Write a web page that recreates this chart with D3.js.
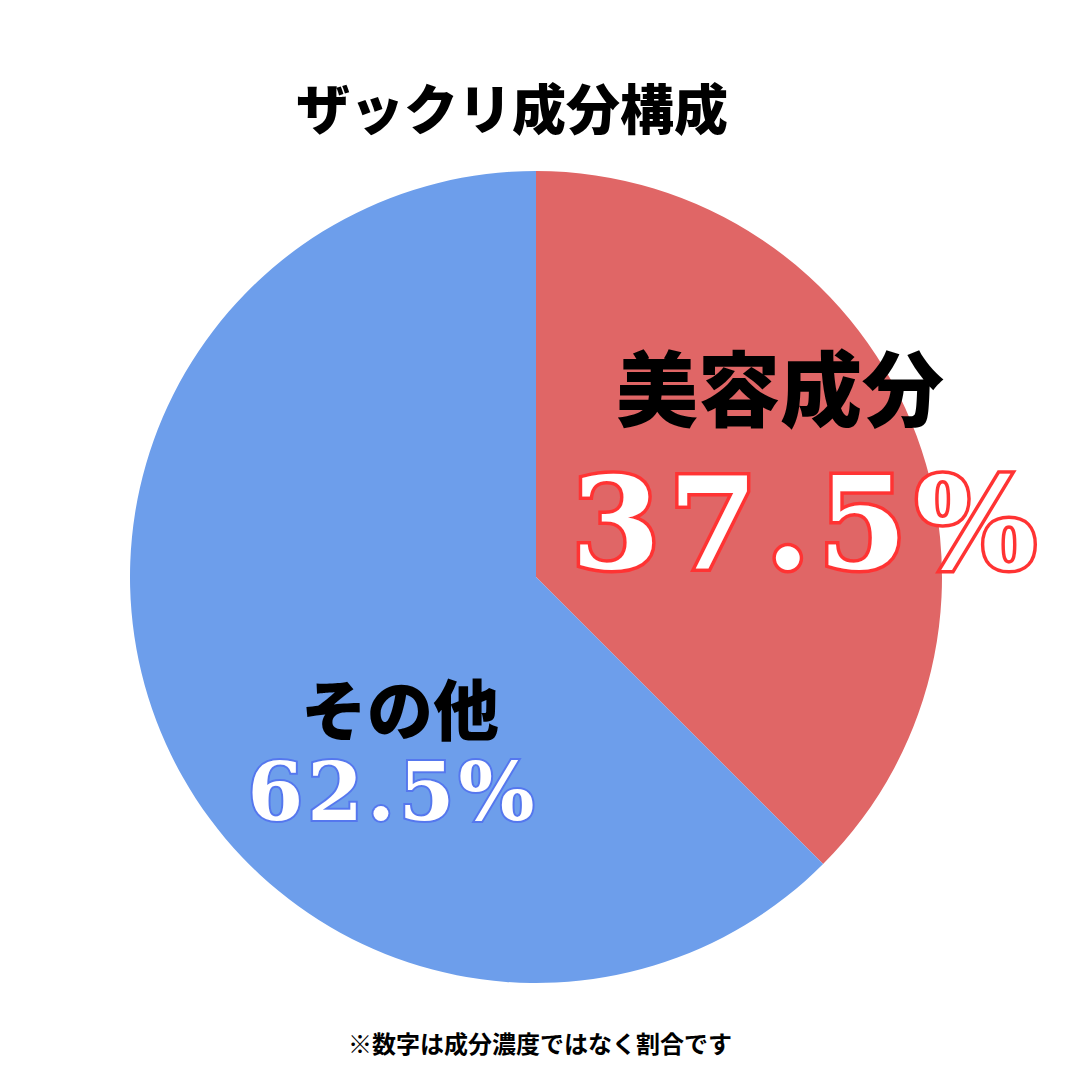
<!DOCTYPE html>
<html><head><meta charset="utf-8">
<script src="https://cdn.jsdelivr.net/npm/d3@7"></script>
<style>body{margin:0;background:#fff}</style>
</head><body>
<svg id="c" width="1080" height="1080"></svg>
<script>
const categories = ["美容成分", "その他"];
const values = [37.5, 62.5];
const colors = ["#E06666", "#6D9EEB"];
const strokes = ["#FF3333", "#5577EE"];
const title = "ザックリ成分構成";
const note = "※数字は成分濃度ではなく割合です";

const svg = d3.select("#c");
const cx = 536, cy = 577, r = 406;
const pie = d3.pie().sort(null).value(d => d)(values);
const arc = d3.arc().innerRadius(0).outerRadius(r);
const g = svg.append("g").attr("transform", `translate(${cx},${cy})`);
g.selectAll("path").data(pie).join("path").attr("d", arc)
  .attr("fill", (d, i) => colors[i]);

const font = "'Noto Sans CJK JP', sans-serif";
svg.append("text").attr("x", 512).attr("y", 130).attr("text-anchor", "middle")
  .attr("font-family", font).attr("font-weight", 900).attr("font-size", 54).text(title);
svg.append("text").attr("x", 540).attr("y", 1053).attr("text-anchor", "middle")
  .attr("font-family", font).attr("font-weight", 700).attr("font-size", 24).text(note);

const lab = [
  {x: 780, y: 420, ny: 568, fs: 82, nfs: 128},
  {x: 400, y: 735, ny: 820, fs: 66, nfs: 80}
];
lab.forEach((p, i) => {
  svg.append("text").attr("x", p.x).attr("y", p.y).attr("text-anchor", "middle")
    .attr("font-family", font).attr("font-weight", 900).attr("font-size", p.fs).text(categories[i]);
  svg.append("text").attr("x", i ? 393 : 808).attr("y", p.ny).attr("text-anchor", "middle")
    .attr("font-family", "'DejaVu Serif', serif").attr("font-weight", 700).attr("font-size", p.nfs)
    .attr("letter-spacing", i ? 4 : 8)
    .attr("fill", "#fff").attr("stroke", strokes[i]).attr("stroke-width", i ? 4 : 7)
    .attr("paint-order", "stroke").text(values[i] + "%");
});
</script>
</body></html>
